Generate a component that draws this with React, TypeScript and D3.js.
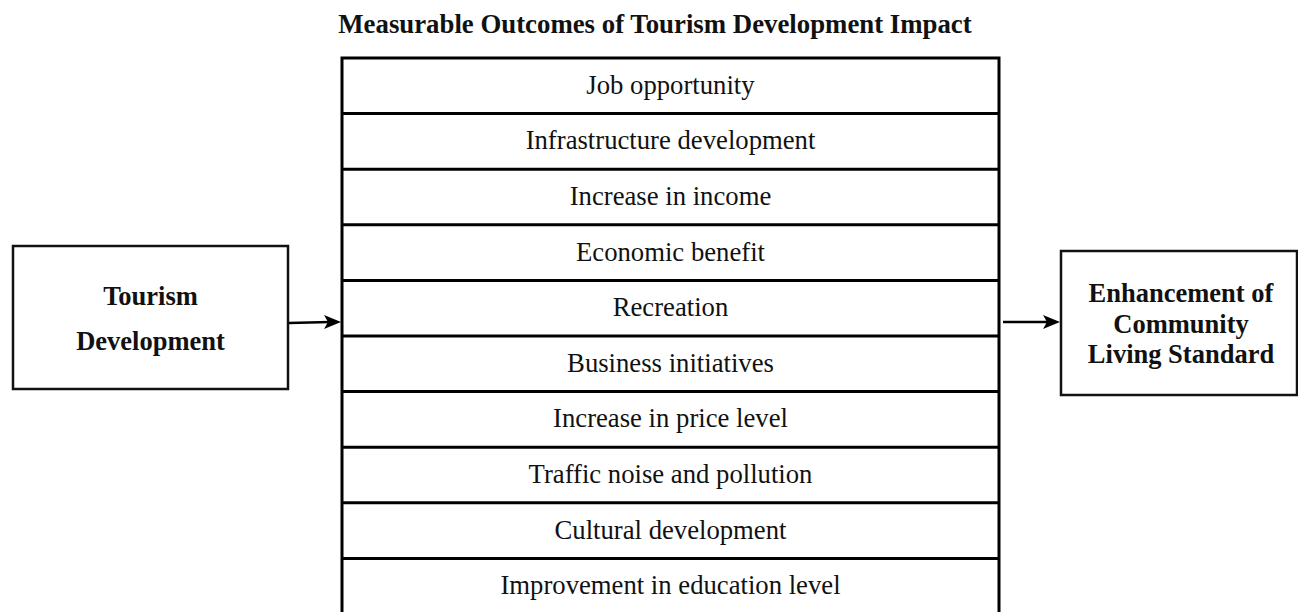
import React from "react";
import * as d3 from "d3";

const title = "Measurable Outcomes of Tourism Development Impact";
const outcomes = [
  "Job opportunity",
  "Infrastructure development",
  "Increase in income",
  "Economic benefit",
  "Recreation",
  "Business initiatives",
  "Increase in price level",
  "Traffic noise and pollution",
  "Cultural development",
  "Improvement in education level",
];
const leftLines = ["Tourism", "Development"];
const rightLines = ["Enhancement of", "Community", "Living Standard"];

const W = 1298;
const H = 612;
const FONT = "'Liberation Serif', 'Times New Roman', serif";

export default function App() {
  const box = { x0: 342, x1: 999, y0: 58, rowH: 55.6 };
  const y = d3
    .scaleBand<string>()
    .domain(outcomes)
    .range([box.y0, box.y0 + box.rowH * outcomes.length])
    .padding(0);
  const cx = (box.x0 + box.x1) / 2;
  const left = { x0: 13, x1: 288, y0: 246, y1: 389 };
  const right = { x0: 1061, x1: 1297, y0: 251, y1: 395 };
  const arrowY = 322;
  const leftY = d3.scalePoint<string>().domain(leftLines).range([305, 350]);
  const rightY = d3.scalePoint<string>().domain(rightLines).range([302, 363]);
  const head = (tipX: number, yy: number) =>
    `M${tipX},${yy} L${tipX - 17},${yy - 7} L${tipX - 13},${yy} L${tipX - 17},${yy + 7} Z`;

  return (
    <svg
      width={W}
      height={H}
      style={{ position: "absolute", left: 0, top: 0, background: "#fff" }}
    >
      <rect width={W} height={H} fill="#fff" />
      <text
        x={655}
        y={33}
        textAnchor="middle"
        fontFamily={FONT}
        fontWeight="bold"
        fontSize={26.8}
        fill="#111"
      >
        {title}
      </text>

      {/* central box */}
      <rect
        x={box.x0}
        y={box.y0}
        width={box.x1 - box.x0}
        height={box.rowH * outcomes.length}
        fill="none"
        stroke="#000"
        strokeWidth={3}
      />
      {outcomes.map((o, i) => (
        <g key={o}>
          {i > 0 && (
            <line
              x1={box.x0}
              x2={box.x1}
              y1={y(o)!}
              y2={y(o)!}
              stroke="#000"
              strokeWidth={3}
            />
          )}
          <text
            x={cx}
            y={y(o)! + y.bandwidth() / 2 + 8}
            textAnchor="middle"
            fontFamily={FONT}
            fontSize={26.7}
            fill="#111"
          >
            {o}
          </text>
        </g>
      ))}

      {/* left box */}
      <rect
        x={left.x0}
        y={left.y0}
        width={left.x1 - left.x0}
        height={left.y1 - left.y0}
        fill="#fff"
        stroke="#111"
        strokeWidth={2.5}
      />
      {leftLines.map((l) => (
        <text
          key={l}
          x={(left.x0 + left.x1) / 2}
          y={leftY(l)!}
          textAnchor="middle"
          fontFamily={FONT}
          fontWeight="bold"
          fontSize={26.5}
          fill="#111"
        >
          {l}
        </text>
      ))}

      {/* right box */}
      <rect
        x={right.x0}
        y={right.y0}
        width={right.x1 - right.x0}
        height={right.y1 - right.y0}
        fill="#fff"
        stroke="#111"
        strokeWidth={2.5}
      />
      {rightLines.map((l) => (
        <text
          key={l}
          x={(right.x0 + right.x1) / 2 + 2}
          y={rightY(l)!}
          textAnchor="middle"
          fontFamily={FONT}
          fontWeight="bold"
          fontSize={26.5}
          fill="#111"
        >
          {l}
        </text>
      ))}

      {/* arrows */}
      <line x1={left.x1 + 1} x2={box.x0 - 12} y1={arrowY + 1} y2={arrowY} stroke="#000" strokeWidth={2.5} />
      <path d={head(box.x0 - 1, arrowY)} fill="#000" />
      <line x1={box.x1 + 4} x2={right.x0 - 12} y1={arrowY} y2={arrowY} stroke="#000" strokeWidth={2.5} />
      <path d={head(right.x0 - 1, arrowY)} fill="#000" />
    </svg>
  );
}
